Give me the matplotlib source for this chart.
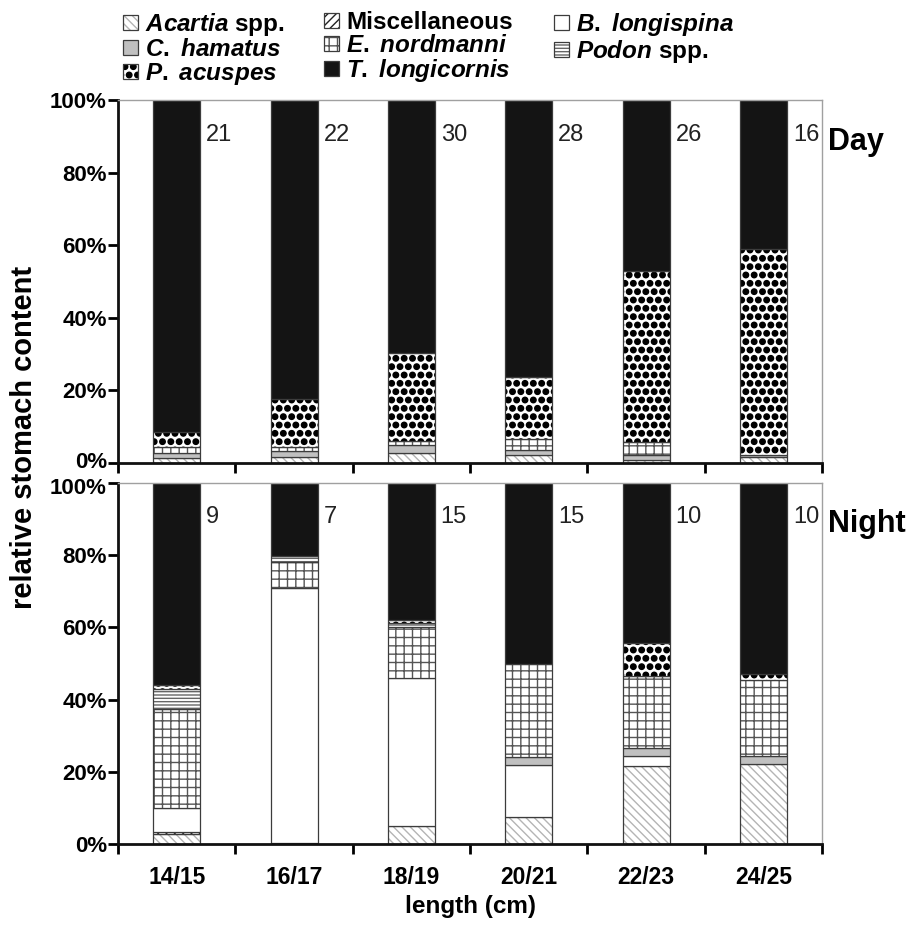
import matplotlib
matplotlib.use("Agg")
import matplotlib.pyplot as plt
import matplotlib.hatch as mhatch
from matplotlib.patches import Patch
from matplotlib.transforms import ScaledTranslation
import numpy as np

# bigger dots for the P. acuspes fill
mhatch.SmallFilledCircles.size = 0.33

plt.rcParams['font.family'] = 'Liberation Sans'
plt.rcParams['font.weight'] = 'bold'
plt.rcParams['mathtext.fontset'] = 'custom'
plt.rcParams['mathtext.it'] = 'Liberation Sans:italic:bold'
plt.rcParams['mathtext.rm'] = 'Liberation Sans:bold'
plt.rcParams['hatch.linewidth'] = 1.0

lengths = ['14/15', '16/17', '18/19', '20/21', '22/23', '24/25']
day_n = [21, 22, 30, 28, 26, 16]
night_n = [9, 7, 15, 15, 10, 10]

# percent of stomach content per length class (day)
acartia_day = [1.5, 1.6, 2.8, 2.3, 0.9, 1.6]
misc_day = [0, 0, 0, 0, 0, 0]
blong_day = [0, 0, 0, 0, 0, 0]
chamatus_day = [1.4, 1.6, 2.3, 1.4, 1.4, 0.7]
enord_day = [1.4, 1.2, 0.9, 3.0, 3.4, 0]
podon_day = [0, 0, 0, 0, 0, 0]
pacuspes_day = [4.2, 13.2, 24.3, 17.0, 47.2, 56.7]
tlong_day = [91.5, 82.4, 69.7, 76.3, 47.1, 41.0]

# night
acartia_night = [2.8, 0.3, 5.1, 7.4, 21.5, 22.2]
misc_night = [0.6, 0, 0, 0, 0, 0]
blong_night = [6.5, 70.5, 40.8, 14.4, 3.0, 0]
chamatus_night = [0, 0, 0, 2.2, 2.2, 2.1]
enord_night = [27.4, 7.4, 14.3, 25.9, 19.9, 21.0]
podon_night = [5.5, 1.6, 0.9, 0, 0, 0]
pacuspes_night = [1.2, 0, 0.9, 0, 9.1, 1.8]
tlong_night = [56.1, 20.2, 38.0, 50.1, 44.3, 52.9]

# (label, face, hatch, hatch colour)
taxa = [
    (r'$\mathit{Acartia}$ spp.', 'white', r'\\\\', '#b4b4b4'),
    ('Miscellaneous', 'white', '////', '#222222'),
    (r'$\mathit{B.}$ $\mathit{longispina}$', 'white', None, '#333333'),
    (r'$\mathit{C.}$ $\mathit{hamatus}$', '#c0c0c0', None, '#333333'),
    (r'$\mathit{E.}$ $\mathit{nordmanni}$', 'white', '++', '#555555'),
    (r'$\mathit{Podon}$ spp.', 'white', '-----', '#666666'),
    (r'$\mathit{P.}$ $\mathit{acuspes}$', 'white', '..', '#000000'),
    (r'$\mathit{T.}$ $\mathit{longicornis}$', '#141414', None, '#141414'),
]

day = [acartia_day, misc_day, blong_day, chamatus_day, enord_day,
       podon_day, pacuspes_day, tlong_day]
night = [acartia_night, misc_night, blong_night, chamatus_night, enord_night,
         podon_night, pacuspes_night, tlong_night]

outline = '#3c3c3c'
x = np.arange(len(lengths)) + 0.5


def draw_panel(ax, layers, counts, title):
    bottom = np.zeros(len(lengths))
    for (label, face, hatch, hcol), vals in zip(taxa, layers):
        vals = np.array(vals, dtype=float)
        keep = vals > 0
        ax.bar(x[keep], vals[keep], bottom=bottom[keep], width=0.4,
               color=face, hatch=hatch, edgecolor=hcol, linewidth=0)
        ax.bar(x[keep], vals[keep], bottom=bottom[keep], width=0.4,
               fill=False, edgecolor=outline, linewidth=0.9)
        bottom += vals
    for xi, n in zip(x, counts):
        ax.text(xi + 0.25, 90.5, str(n), ha='left', va='center',
                fontsize=17, fontweight='normal', color='#222222')
    ax.text(1.008, 0.885, title, transform=ax.transAxes, ha='left',
            va='center', fontsize=22, fontweight='bold')

    ax.set_xlim(0, 6)
    ax.set_ylim(0, 100)
    ax.set_yticks(np.arange(0, 101, 20))
    ax.set_yticklabels(['%d%%' % v for v in range(0, 101, 20)])
    ax.set_xticks(np.arange(0, 7))
    ax.set_xticklabels([])
    ax.set_xticks(x, minor=True)
    ax.tick_params(axis='y', length=7, width=2, pad=1, labelsize=16)
    ax.tick_params(axis='x', which='major', length=7, width=2)
    ax.tick_params(axis='x', which='minor', length=0, pad=16, labelsize=16.5)
    for side in ['left', 'bottom']:
        ax.spines[side].set_linewidth(2)
        ax.spines[side].set_color('#111111')
    for side in ['top', 'right']:
        ax.spines[side].set_linewidth(1)
        ax.spines[side].set_color('#a0a0a0')


fig = plt.figure(figsize=(9.15, 9.27), dpi=100)
ax_day = fig.add_axes([0.129, 0.5005, 0.7695, 0.3915])
ax_night = fig.add_axes([0.129, 0.0895, 0.7695, 0.3895])

draw_panel(ax_day, day, day_n, 'Day')
draw_panel(ax_night, night, night_n, 'Night')
ax_night.set_xticklabels(lengths, minor=True)

# push the 0% / 100% labels where the panels meet a little apart
lbl = ax_day.get_yticklabels()[0]
lbl.set_transform(lbl.get_transform() + ScaledTranslation(0, 3 / 100, fig.dpi_scale_trans))
lbl = ax_night.get_yticklabels()[-1]
lbl.set_transform(lbl.get_transform() + ScaledTranslation(0, -3 / 100, fig.dpi_scale_trans))

fig.text(0.514, 1 - 907 / 927, 'length (cm)', ha='center', va='center',
         fontsize=17.5)
fig.text(24 / 915, 1 - 437 / 927, 'relative stomach content', rotation=90,
         ha='center', va='center', fontsize=21)

# legend, filled row by row in three columns
handles = []
for label, face, hatch, hcol in taxa:
    fillpart = Patch(facecolor=face, hatch=hatch, edgecolor=hcol, linewidth=0)
    edgepart = Patch(fill=False, edgecolor=outline, linewidth=0.9)
    handles.append(((fillpart, edgepart), label))

col_x = [123, 324, 554]
for c, left in enumerate(col_x):
    items = handles[c::3]
    fig.legend([h for h, _ in items], [l for _, l in items],
               loc='upper left', bbox_to_anchor=(left / 915, 1 - 11 / 927),
               frameon=False, fontsize=17.5, handlelength=0.62,
               handleheight=0.62, handletextpad=0.3, labelspacing=0.0,
               borderpad=0, borderaxespad=0)

fig.savefig('out.png', dpi=100)
